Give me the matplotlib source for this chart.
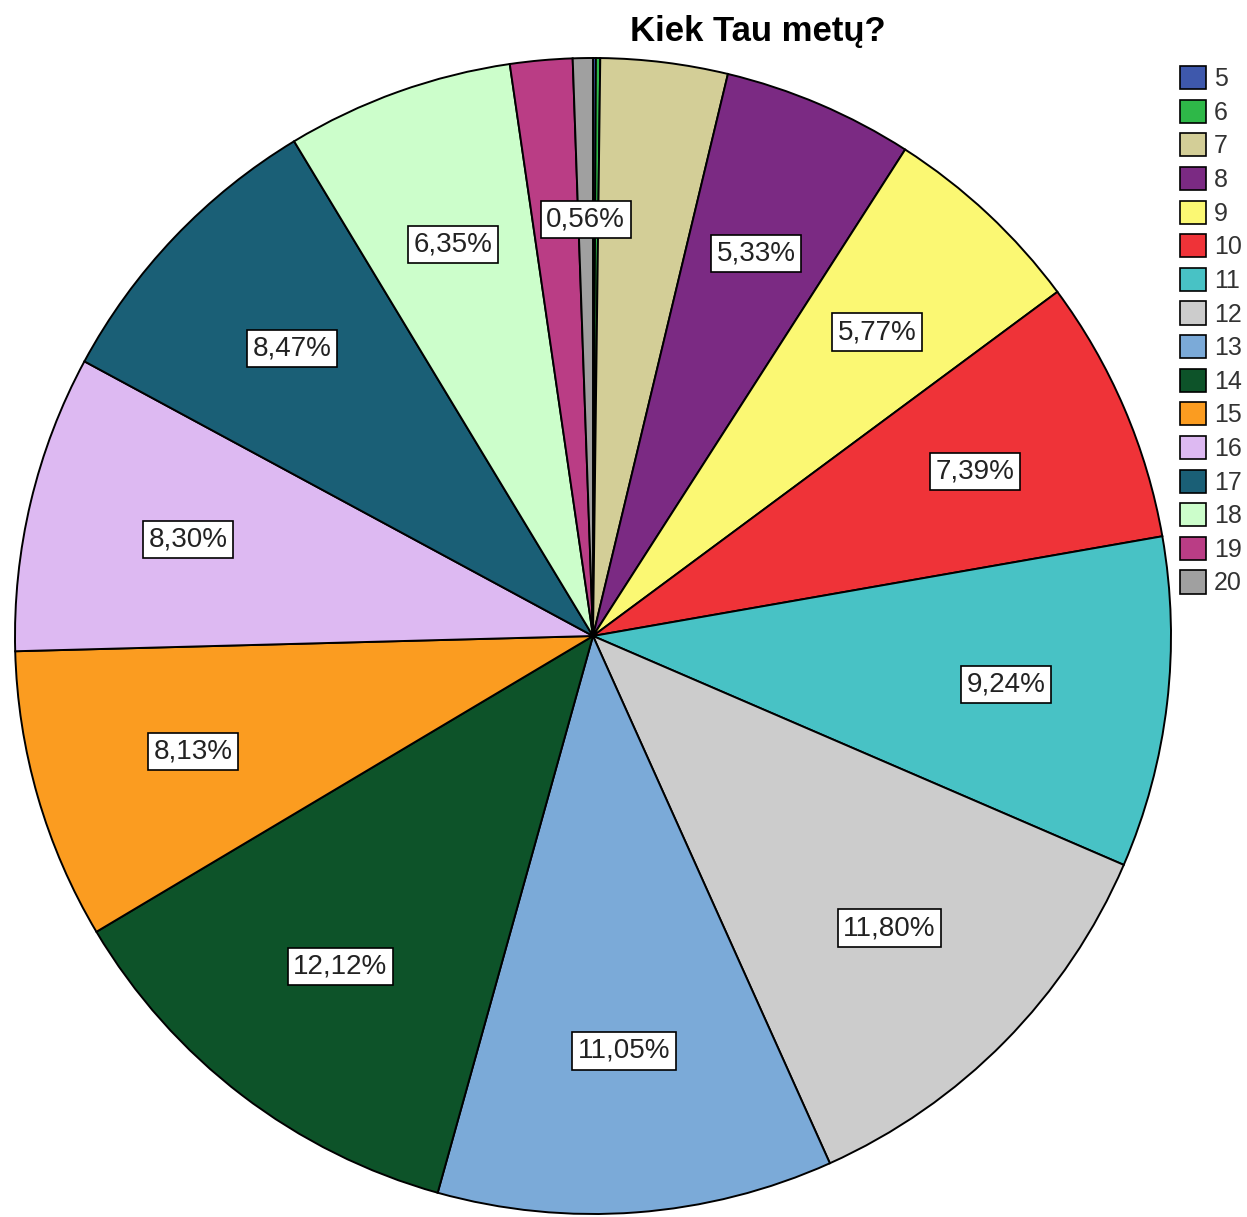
import matplotlib
matplotlib.use("Agg")
import matplotlib.pyplot as plt

categories = ["5", "6", "7", "8", "9", "10", "11", "12", "13", "14",
              "15", "16", "17", "18", "19", "20"]
values = [0.08, 0.12, 3.55, 5.33, 5.77, 7.39, 9.24, 11.80, 11.05, 12.12,
          8.13, 8.30, 8.47, 6.35, 1.74, 0.56]
labels = ["", "", "", "5,33%", "5,77%", "7,39%", "9,24%", "11,80%", "11,05%",
          "12,12%", "8,13%", "8,30%", "8,47%", "6,35%", "", "0,56%"]
colors = ["#3E58AC", "#2EB848", "#D3CE97", "#7B2A83", "#FBF873", "#EF3338",
          "#48C2C5", "#CCCCCC", "#7BAAD8", "#0D5329", "#FB9C20", "#DDB9F2",
          "#1A5F76", "#CCFECB", "#BA3D85", "#A0A0A0"]
title = "Kiek Tau metų?"

plt.rcParams['font.family'] = ['Liberation Sans', 'DejaVu Sans']

W, H = 1247, 1217
fig = plt.figure(figsize=(W / 100, H / 100), dpi=100)
cx, cy, r = 593, 636, 578
ax = fig.add_axes([(cx - r) / W, (H - cy - r) / H, 2 * r / W, 2 * r / H])

wedges, texts, autotexts = ax.pie(
    values, colors=colors, startangle=90, counterclock=False,
    autopct='%1.2f%%', pctdistance=0.72,
    wedgeprops=dict(edgecolor='black', linewidth=1.4))
ax.set_xlim(-1, 1)
ax.set_ylim(-1, 1)
ax.set_aspect('equal')
ax.axis('off')

for t, lab in zip(autotexts, labels):
    if lab:
        t.set_text(lab)
        t.set_fontsize(20)
        t.set_color('#222222')
        t.set_bbox(dict(boxstyle='square,pad=0.2', facecolor='white',
                        edgecolor='black', linewidth=1.2))
    else:
        t.set_visible(False)

fig.text(758 / W, 1 - 32 / H, title, fontsize=25, fontweight='bold',
         ha='center', va='center')

leg = fig.legend(wedges, categories, loc='upper left',
                 bbox_to_anchor=(1180 / W, 1 - 66 / H),
                 frameon=False, fontsize=18, handlelength=1.05,
                 handleheight=1.05, handletextpad=0.3, labelspacing=0.34,
                 borderpad=0, borderaxespad=0)
for h in leg.legend_handles:
    h.set_edgecolor('black')
    h.set_linewidth(1.2)
for t in leg.get_texts():
    t.set_color('#333333')

fig.savefig("out.png", dpi=100, facecolor='white')
